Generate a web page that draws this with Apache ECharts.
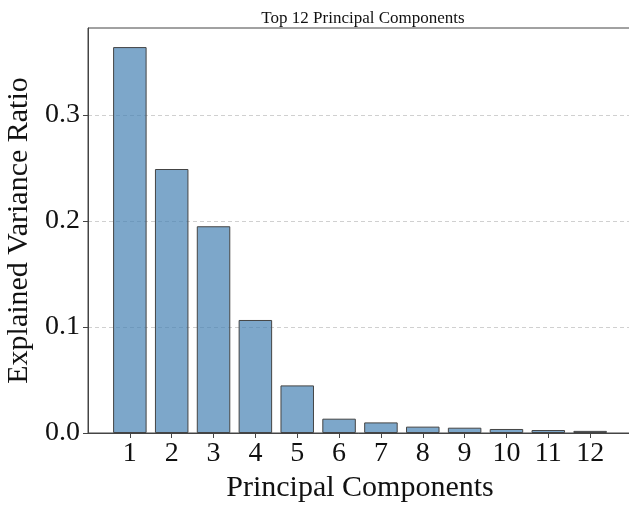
<!DOCTYPE html>
<html><head><meta charset="utf-8">
<script src="https://cdn.jsdelivr.net/npm/echarts@6/dist/echarts.min.js"></script>
<style>html,body{margin:0;padding:0;background:#fff}#c{width:629px;height:505px}</style>
</head><body><div id="c"></div>
<script>
var components = [1,2,3,4,5,6,7,8,9,10,11,12];
var varianceRatio = [0.364,0.249,0.195,0.1066,0.0449,0.0135,0.0100,0.0060,0.0050,0.0038,0.0028,0.0020];
var yTicks = [0,0.1,0.2,0.3];
var titleText = 'Top 12 Principal Components';
var xName = 'Principal Components';
var yName = 'Explained Variance Ratio';

var font = '"Liberation Serif", "DejaVu Serif", serif';
var chart = echarts.init(document.getElementById('c'), null, {renderer:'canvas'});
chart.setOption({
  animation:false,
  title:{text:titleText,left:358,top:5,textAlign:'center',textStyle:{fontFamily:font,fontWeight:'normal',fontSize:17,color:'#111'}},
  grid:{left:88,top:28,right:-3,bottom:72,outerBoundsMode:'none',containLabel:false,show:true,borderColor:'#444',borderWidth:1,backgroundColor:'transparent'},
  xAxis:{type:'value',min:0,max:13,
    name:xName,nameLocation:'middle',nameGap:40,nameTextStyle:{fontFamily:font,fontSize:30,color:'#111'},
    axisLine:{show:true,lineStyle:{color:'#444',width:1}},
    axisTick:{show:true,length:5,inside:false,customValues:components,lineStyle:{color:'#444'}},
    axisLabel:{customValues:components,fontFamily:font,fontSize:28,color:'#111',margin:7},
    splitLine:{show:false}},
  yAxis:{type:'value',min:0,max:0.382,
    name:yName,nameLocation:'middle',nameGap:50,nameTextStyle:{fontFamily:font,fontSize:30,color:'#111'},
    axisLine:{show:true,lineStyle:{color:'#444',width:1}},
    axisTick:{show:true,length:5,customValues:yTicks,lineStyle:{color:'#444'}},
    axisLabel:{customValues:yTicks,fontFamily:font,fontSize:28,color:'#111',margin:8,formatter:function(v){return v.toFixed(1);}},
    splitLine:{show:true,customValues:yTicks,lineStyle:{color:'#d0d0d0',type:[4,3],width:1}}},
  series:[{type:'bar',barWidth:33.5,
    data:components.map(function(c,i){return [c,varianceRatio[i]];}),
    itemStyle:{color:'rgba(70,130,180,0.7)',borderColor:'#444',borderWidth:1}}]
});
</script></body></html>
